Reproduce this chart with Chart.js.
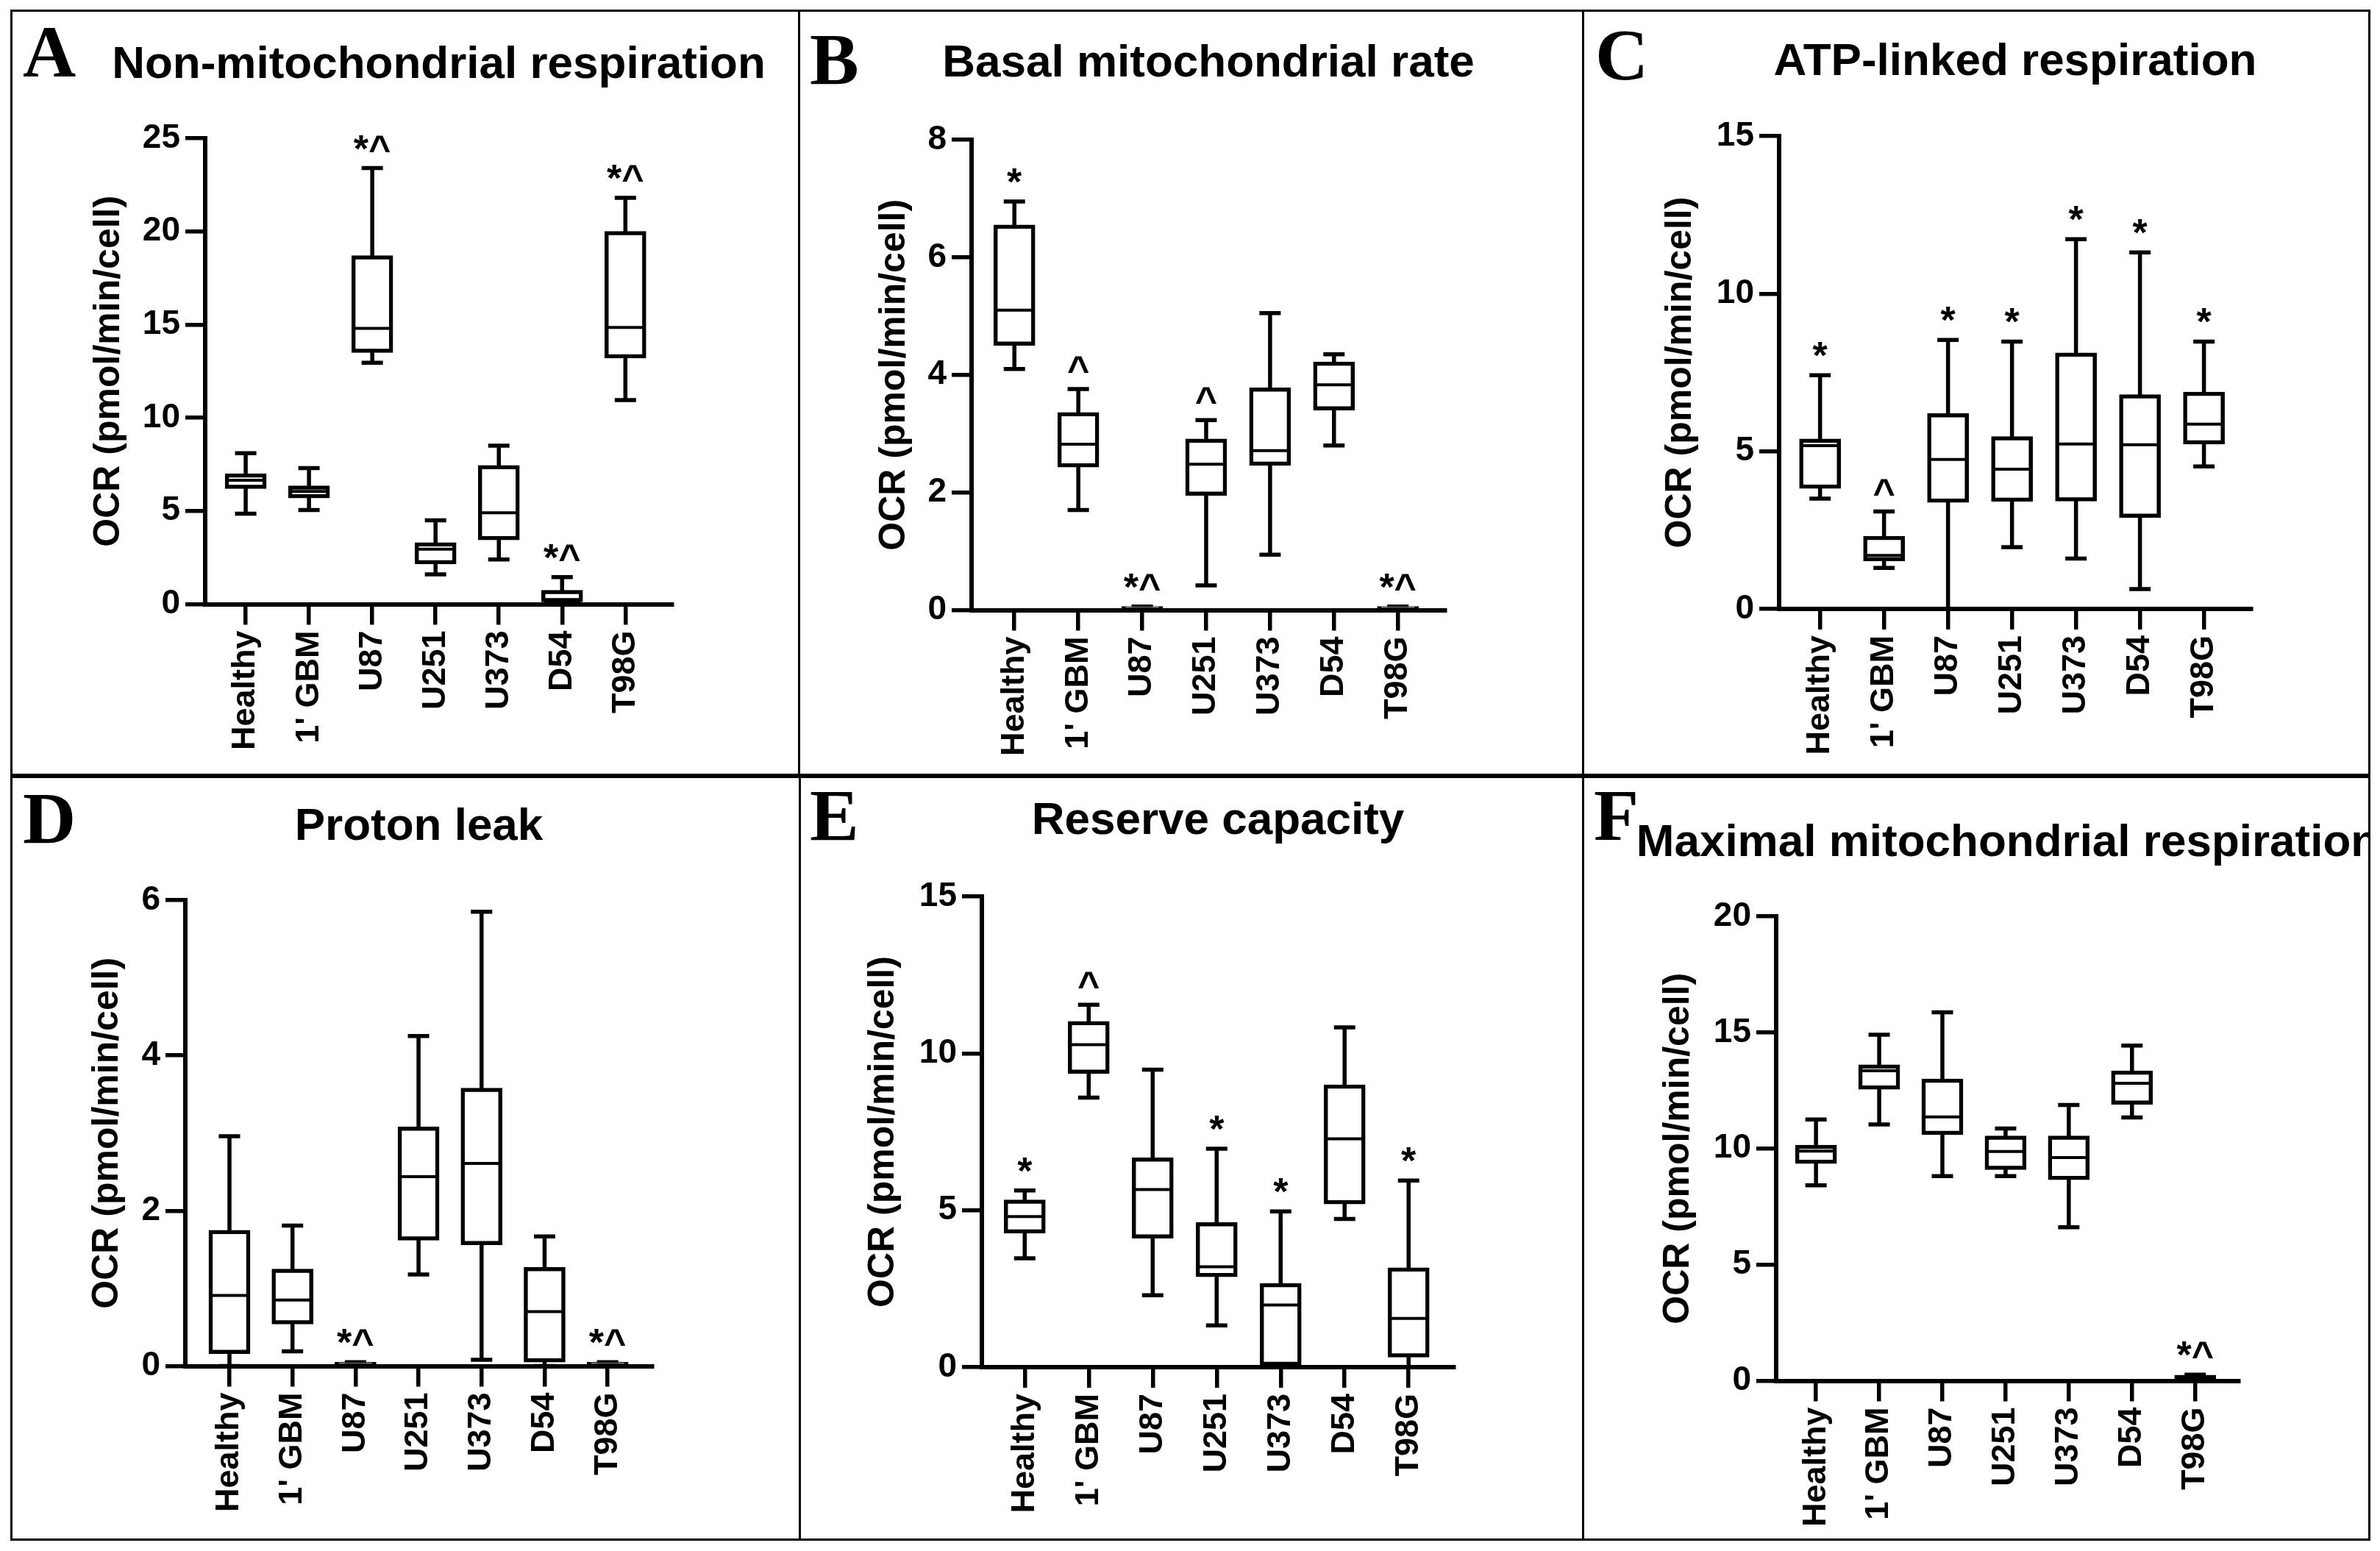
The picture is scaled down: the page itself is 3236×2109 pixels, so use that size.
<!DOCTYPE html>
<html>
<head>
<meta charset="utf-8">
<script src="https://cdn.jsdelivr.net/npm/chart.js@4.4.1/dist/chart.umd.min.js"></script>
<style>
  html, body { margin: 0; padding: 0; background: #fff; }
  #fig { position: relative; width: 3236px; height: 2109px; overflow: hidden; background: #fff; }
  #fig canvas { position: absolute; }
  .frame { position: absolute; border: 3px solid #000; box-sizing: border-box; pointer-events: none; }
</style>
</head>
<body>
<div id="fig"></div>
<script>
// cell lines on the x axis
const categories = ['Healthy', "1' GBM", 'U87', 'U251', 'U373', 'D54', 'T98G'];

// each row: [min, q1, median, q3, max]
const nonMito = [
  [4.85, 6.2, 6.65, 7.0, 8.1],
  [5.05, 5.7, 6.05, 6.35, 7.3],
  [12.95, 13.5, 14.8, 18.7, 23.4],
  [1.6, 2.15, 2.95, 3.3, 4.5],
  [2.4, 3.45, 4.9, 7.45, 8.5],
  [0, 0.12, 0.18, 0.75, 1.45],
  [10.95, 13.2, 14.85, 20.0, 21.8]
];
const nonMitoMarks = ['', '', '*^', '', '', '*^', '*^'];

const basal = [
  [4.1, 4.5, 5.1, 6.55, 6.95],
  [1.7, 2.43, 2.82, 3.36, 3.76],
  [0, 0, 0.02, 0.06, 0.06],
  [0.42, 1.95, 2.48, 2.91, 3.23],
  [0.94, 2.46, 2.71, 3.78, 5.05],
  [2.8, 3.4, 3.83, 4.22, 4.35],
  [0, 0, 0.02, 0.06, 0.06]
];
const basalMarks = ['*', '^', '*^', '^', '', '', '*^'];

const atpLinked = [
  [3.5, 3.82, 5.18, 5.39, 7.41],
  [1.3, 1.52, 1.7, 2.31, 3.09],
  [0, 3.38, 4.74, 6.2, 8.53],
  [1.96, 3.41, 4.43, 5.47, 8.48],
  [1.6, 3.42, 5.23, 8.12, 11.73],
  [0.63, 2.9, 5.21, 6.8, 11.31],
  [4.52, 5.23, 5.86, 6.88, 8.48]
];
const atpMarks = ['*', '^', '*', '*', '*', '*', '*'];

const protonLeak = [
  [0, 0.16, 0.91, 1.75, 2.96],
  [0.19, 0.54, 0.85, 1.25, 1.81],
  [0, 0, 0.02, 0.05, 0.05],
  [1.18, 1.62, 2.44, 3.08, 4.25],
  [0.08, 1.56, 2.61, 3.58, 5.85],
  [0, 0.05, 0.7, 1.27, 1.67],
  [0, 0, 0.02, 0.05, 0.05]
];
const protonMarks = ['', '', '*^', '', '', '', '*^'];

const reserve = [
  [3.47, 4.27, 4.8, 5.33, 5.63],
  [8.59, 9.36, 10.28, 11.02, 11.55],
  [2.29, 4.11, 5.66, 6.67, 9.48],
  [1.33, 2.88, 3.2, 4.61, 6.96],
  [0, 0.05, 1.98, 2.67, 4.96],
  [4.72, 5.2, 7.28, 9.0, 10.83],
  [0, 0.32, 1.55, 3.17, 5.95]
];
const reserveMarks = ['*', '^', '', '*', '*', '', '*'];

const maximal = [
  [8.42, 9.35, 9.89, 10.15, 11.25],
  [11.04, 12.55, 13.35, 13.61, 14.9],
  [8.81, 10.6, 11.36, 13.0, 15.87],
  [8.81, 9.09, 9.87, 10.54, 10.86],
  [6.61, 8.66, 9.61, 10.54, 11.88],
  [11.34, 11.9, 12.81, 13.35, 14.43],
  [0.05, 0.08, 0.15, 0.24, 0.26]
];
const maximalMarks = ['', '', '', '', '', '', '*^'];

const titles = [
  'Non-mitochondrial respiration',
  'Basal mitochondrial rate',
  'ATP-linked respiration',
  'Proton leak',
  'Reserve capacity',
  'Maximal mitochondrial respiration'
];
const letters = ['A', 'B', 'C', 'D', 'E', 'F'];
const yMaxes = [25, 8, 15, 6, 15, 20];
const ySteps = [5, 2, 5, 2, 5, 5];
const yLabel = 'OCR (pmol/min/cell)';

const allStats = [nonMito, basal, atpLinked, protonLeak, reserve, maximal];
const allMarks = [nonMitoMarks, basalMarks, atpMarks, protonMarks, reserveMarks, maximalMarks];

const SANS = '"Liberation Sans", Arial, sans-serif';
const SERIF = '"Liberation Serif", "Times New Roman", serif';

// page geometry of each panel (frame, axes, title and letter placement)
const geom = [
  { rect: [14, 13, 1085, 1055],   axisX: 279,  axisEnd: 914,  topY: 188,  zeroY: 821.5,  yTitleX: 148,  titleBase: 106,  letter: [31, 104],    xr: [-0.64, 6.74] },
  { rect: [1085, 13, 2151, 1055], axisX: 1321, axisEnd: 1965, topY: 190,  zeroY: 829.5,  yTitleX: 1216, titleBase: 104,  letter: [1101, 114],  xr: [-0.67, 6.74] },
  { rect: [2151, 13, 3220, 1055], axisX: 2419, axisEnd: 3061, topY: 185,  zeroY: 828,    yTitleX: 2285, titleBase: 102,  letter: [2169, 108],  xr: [-0.64, 6.74] },
  { rect: [14, 1055, 1086, 2095], axisX: 252,  axisEnd: 887,  topY: 1224, zeroY: 1857.5, yTitleX: 146,  titleBase: 1142, letter: [31, 1146],   xr: [-0.70, 6.71] },
  { rect: [1086, 1055, 2151, 2095], axisX: 1335, axisEnd: 1977, topY: 1219, zeroY: 1859, yTitleX: 1201, titleBase: 1134, letter: [1101, 1142], xr: [-0.67, 6.71] },
  { rect: [2151, 1055, 3220, 2095], axisX: 2415, axisEnd: 3044, topY: 1246, zeroY: 1877.5, yTitleX: 2282, titleBase: 1164, letter: [2167, 1142], xr: [-0.63, 6.69] }
];

const X_AXIS_H = 200;
const BOX_W = 56;
const CAP_W = 29;
const LINE_W = 5.5;

// whiskers, medians, significance marks, panel title and letter
function boxParts(k, g) {
  const stats = allStats[k];
  const marks = allMarks[k];
  const [L, T] = g.rect;
  return {
    id: 'boxParts' + k,
    beforeDatasetsDraw(chart) {
      const { ctx, scales: { x, y } } = chart;
      ctx.save();
      ctx.strokeStyle = '#000';
      ctx.lineWidth = LINE_W;
      ctx.lineCap = 'butt';
      stats.forEach((s, i) => {
        const px = x.getPixelForValue(i);
        const lo = y.getPixelForValue(s[0]);
        const hi = y.getPixelForValue(s[4]);
        ctx.beginPath();
        ctx.moveTo(px, lo); ctx.lineTo(px, hi);
        ctx.moveTo(px - CAP_W / 2, lo); ctx.lineTo(px + CAP_W / 2, lo);
        ctx.moveTo(px - CAP_W / 2, hi); ctx.lineTo(px + CAP_W / 2, hi);
        ctx.stroke();
      });
      ctx.restore();
    },
    afterDatasetsDraw(chart) {
      const { ctx, scales: { x, y } } = chart;
      ctx.save();
      ctx.strokeStyle = '#000';
      ctx.lineWidth = 4;
      stats.forEach((s, i) => {
        if (s[3] - s[1] < 0.1) return;
        const px = x.getPixelForValue(i);
        const my = y.getPixelForValue(s[2]);
        ctx.beginPath();
        ctx.moveTo(px - BOX_W / 2 + 3, my);
        ctx.lineTo(px + BOX_W / 2 - 3, my);
        ctx.stroke();
      });
      ctx.fillStyle = '#000';
      ctx.font = 'bold 52px ' + SANS;
      ctx.textAlign = 'center';
      ctx.textBaseline = 'alphabetic';
      marks.forEach((m, i) => {
        if (!m) return;
        const px = x.getPixelForValue(i);
        const py = y.getPixelForValue(stats[i][4]) - 9;
        ctx.fillText(m, px, py);
      });
      ctx.restore();
    },
    afterDraw(chart) {
      const { ctx, chartArea } = chart;
      ctx.save();
      ctx.fillStyle = '#000';
      ctx.textBaseline = 'alphabetic';
      ctx.font = 'bold 62px ' + SANS;
      ctx.textAlign = 'center';
      ctx.fillText(titles[k], (chartArea.left + chartArea.right) / 2, g.titleBase - T);
      ctx.font = 'bold 100px ' + SERIF;
      ctx.textAlign = 'left';
      ctx.fillText(letters[k], g.letter[0] - L, g.letter[1] - T);
      ctx.restore();
    }
  };
}

const fig = document.getElementById('fig');

geom.forEach((g, k) => {
  const [L, T, R, B] = g.rect;
  const W = R - L, H = B - T;

  const canvas = document.createElement('canvas');
  canvas.width = W;
  canvas.height = H;
  canvas.style.left = L + 'px';
  canvas.style.top = T + 'px';
  canvas.style.width = W + 'px';
  canvas.style.height = H + 'px';
  fig.appendChild(canvas);

  const frame = document.createElement('div');
  frame.className = 'frame';
  frame.style.left = L + 'px';
  frame.style.top = T + 'px';
  frame.style.width = (W + 3) + 'px';
  frame.style.height = H + 'px';
  fig.appendChild(frame);

  const yW = g.axisX - g.yTitleX + 30;
  const stats = allStats[k];

  new Chart(canvas, {
    type: 'bar',
    data: {
      datasets: [{
        data: stats.map((s, i) => ({ x: i, y: [s[1], s[3]] })),
        backgroundColor: '#fff',
        borderColor: '#000',
        borderWidth: LINE_W,
        borderSkipped: false,
        barThickness: BOX_W
      }]
    },
    options: {
      responsive: false,
      animation: false,
      devicePixelRatio: 1,
      events: [],
      layout: {
        padding: {
          left: g.axisX - L - yW,
          right: R - g.axisEnd,
          top: g.topY - T,
          bottom: B - g.zeroY - X_AXIS_H
        }
      },
      plugins: {
        legend: { display: false },
        tooltip: { enabled: false },
        title: { display: false }
      },
      scales: {
        x: {
          type: 'linear',
          min: g.xr[0],
          max: g.xr[1],
          offset: false,
          afterBuildTicks: (s) => { s.ticks = categories.map((_, i) => ({ value: i })); },
          afterFit: (s) => { s.height = X_AXIS_H; },
          grid: { offset: false, drawOnChartArea: false, drawTicks: true, tickLength: 28, lineWidth: LINE_W, color: '#000' },
          border: { display: true, width: 6, color: '#000' },
          ticks: {
            autoSkip: false,
            minRotation: 90,
            maxRotation: 90,
            padding: 8,
            color: '#000',
            font: { family: SANS, size: 45, weight: 'bold' },
            callback: (v) => categories[v]
          }
        },
        y: {
          min: 0,
          max: yMaxes[k],
          afterFit: (s) => { s.width = yW; },
          grid: { drawOnChartArea: false, drawTicks: true, tickLength: 27, lineWidth: LINE_W, color: '#000' },
          border: { display: true, width: 6, color: '#000' },
          ticks: {
            stepSize: ySteps[k],
            padding: 7,
            color: '#000',
            font: { family: SANS, size: 46, weight: 'bold' }
          },
          title: {
            display: true,
            text: yLabel,
            color: '#000',
            padding: 0,
            font: { family: SANS, size: 50, weight: 'bold', lineHeight: 1.2 }
          }
        }
      }
    },
    plugins: [boxParts(k, g)]
  });
});
</script>
</body>
</html>
